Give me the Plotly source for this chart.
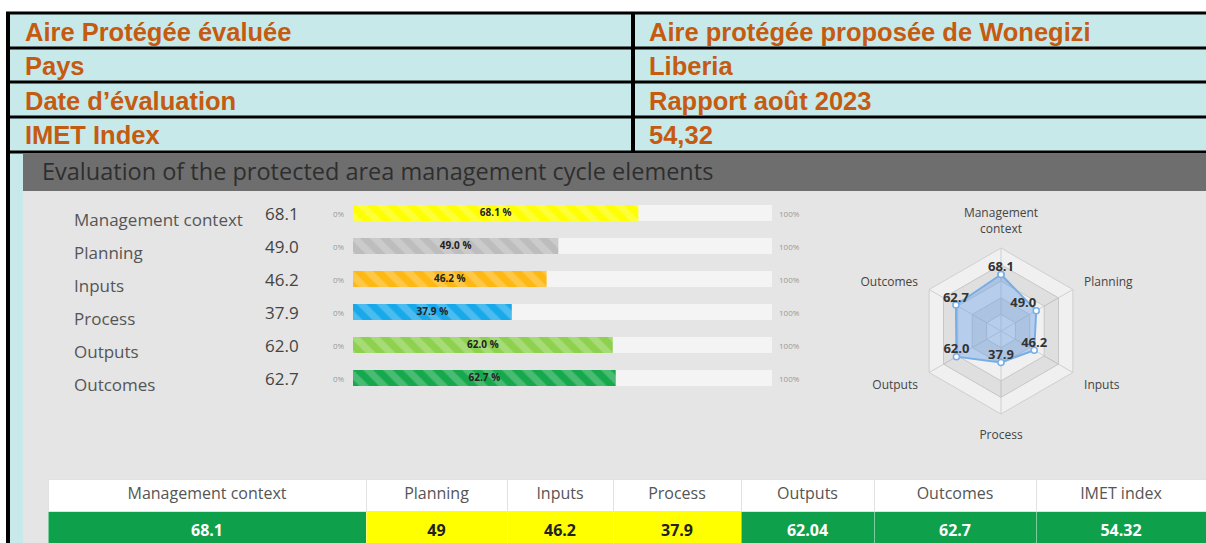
import plotly.graph_objects as go

WIN_W, WIN_H = 1206, 543
W, H = WIN_W, WIN_H

# ---------------- data ----------------
info_labels = ["Aire Protégée évaluée", "Pays", "Date d’évaluation", "IMET Index"]
info_values = ["Aire protégée proposée de Wonegizi", "Liberia", "Rapport août 2023", "54,32"]

title = "Evaluation of the protected area management cycle elements"
categories = ["Management context", "Planning", "Inputs", "Process", "Outputs", "Outcomes"]
scores = [68.1, 49.0, 46.2, 37.9, 62.0, 62.7]
max_score = 100
bar_colors = ["#FFFF00", "#BDBDBD", "#FDB813", "#18A9EA", "#8DD14F", "#16A84C"]
radar_labels = ["Management<br>context", "Planning", "Inputs", "Process", "Outputs", "Outcomes"]
radar_text_pos = ["top center", "top left", "top center", "top center", "top center", "top center"]
radar_rings = [20, 40, 60, 80, 100]

table_headers = ["Management context", "Planning", "Inputs", "Process", "Outputs", "Outcomes", "IMET index"]
table_values = [68.1, 49, 46.2, 37.9, 62.04, 62.7, 54.32]
good_threshold = 50


# ---------------- helpers (window pixels -> paper) ----------------
def px(x):
    return x / W


def py(y):
    return 1 - y / H


FONT = "Open Sans"
ORANGE = "#C55A11"
CYAN = "#C7E9EA"
GREEN = "#0FA04B"
YELLOW = "#FFFF00"

fig = go.Figure()

# ---------------- progress bars ----------------
fig.add_trace(go.Bar(
    x=[max_score] * len(categories), y=categories, orientation="h",
    marker=dict(color="#F4F4F4", line=dict(width=0)),
    width=0.49, hoverinfo="skip", xaxis="x", yaxis="y", showlegend=False,
))
fig.add_trace(go.Bar(
    x=scores, y=categories, orientation="h",
    marker=dict(color=bar_colors, line=dict(width=0)),
    width=0.49, xaxis="x", yaxis="y", showlegend=False, hoverinfo="skip",
))
fig.add_trace(go.Bar(
    x=scores, y=categories, orientation="h",
    marker=dict(color="rgba(0,0,0,0)", line=dict(width=0),
                pattern=dict(shape="\\", fillmode="replace", fgcolor="white",
                             fgopacity=0.22, size=14, solidity=0.5)),
    width=0.49, xaxis="x", yaxis="y", showlegend=False, hoverinfo="skip",
))
fig.add_trace(go.Scatter(
    x=[v / 2 for v in scores], y=categories, mode="text",
    text=[f"<b>{v:.1f} %</b>" for v in scores],
    textfont=dict(family=FONT, size=10, color="#222"),
    xaxis="x", yaxis="y", showlegend=False, hoverinfo="skip",
))

# ---------------- radar ----------------
theta_closed = radar_labels + [radar_labels[0]]
theta_rev = list(reversed(theta_closed))
for outer, inner in [(radar_rings[3], radar_rings[2]), (radar_rings[1], radar_rings[0])]:
    fig.add_trace(go.Scatterpolar(
        r=[outer] * len(theta_closed) + [inner] * len(theta_closed),
        theta=theta_closed + theta_rev,
        mode="lines", fill="toself", fillcolor="rgba(0,0,0,0.07)",
        line=dict(width=0), hoverinfo="skip", showlegend=False,
    ))
fig.add_trace(go.Scatterpolar(
    r=scores + [scores[0]], theta=theta_closed,
    mode="lines+markers", fill="toself", fillcolor="rgba(110,165,230,0.45)",
    line=dict(color="#78AEE6", width=2),
    marker=dict(color="white", size=6, line=dict(color="#78AEE6", width=1.5)),
    hoverinfo="skip", showlegend=False,
))
fig.add_trace(go.Scatterpolar(
    r=scores, theta=radar_labels, mode="text",
    text=[f"<b>{v:.1f}</b>" for v in scores], textposition=radar_text_pos,
    textfont=dict(family=FONT, size=13, color="#333"),
    hoverinfo="skip", showlegend=False,
))

# ---------------- bottom summary table ----------------
cell_fill = [GREEN if v >= good_threshold else YELLOW for v in table_values]
cell_font = ["white" if v >= good_threshold else "#222" for v in table_values]
fig.add_trace(go.Table(
    domain=dict(x=[px(48), 1], y=[0, py(479)]),
    columnwidth=[318, 141, 106, 128, 133, 162, 170],
    header=dict(
        values=table_headers, fill_color="white",
        line=dict(color="#E2E2E2", width=1),
        font=dict(family=FONT, size=16, color="#555"),
        align="center", height=32,
    ),
    cells=dict(
        values=[[f"<b>{v:g}</b>"] for v in table_values],
        fill_color=cell_fill, line=dict(color="rgba(255,255,255,0.45)", width=1),
        font=dict(family=FONT, size=16, color=cell_font),
        align="center", height=32,
    ),
))

# ---------------- annotations ----------------
annotations = [dict(
    x=px(40), y=py(171), xref="paper", yref="paper", xanchor="left", yanchor="middle",
    text=title, showarrow=False, font=dict(family=FONT, size=23.5, color="#2E2E2E"),
)]

# header info table (two columns, four rows)
row_edges = [13, 48, 82, 117, 152]
col_text_x = [23, 647]
for i, (lab, val) in enumerate(zip(info_labels, info_values)):
    yc = (row_edges[i] + row_edges[i + 1]) / 2 + 1
    for xt, txt in zip(col_text_x, [lab, val]):
        annotations.append(dict(
            x=px(xt), y=py(yc), xref="paper", yref="paper", xanchor="left", yanchor="middle",
            text=f"<b>{txt}</b>", showarrow=False,
            font=dict(family="Liberation Sans", size=25.5, color=ORANGE)))

for cat, v in zip(categories, scores):
    annotations.append(dict(x=px(72), y=cat, xref="paper", yref="y", xanchor="left",
                            yanchor="middle", yshift=-6, text=cat, showarrow=False,
                            font=dict(family=FONT, size=17, color="#555")))
    annotations.append(dict(x=px(301), y=cat, xref="paper", yref="y", xanchor="right",
                            yanchor="middle", text=f"{v:.1f}", showarrow=False,
                            font=dict(family=FONT, size=17, color="#444")))
    annotations.append(dict(x=px(347), y=cat, xref="paper", yref="y", xanchor="right",
                            yanchor="middle", text="0%", showarrow=False,
                            font=dict(family=FONT, size=8, color="#999")))
    annotations.append(dict(x=px(777), y=cat, xref="paper", yref="y", xanchor="left",
                            yanchor="middle", text=f"{max_score}%", showarrow=False,
                            font=dict(family=FONT, size=8, color="#999")))


# ---------------- shapes ----------------
def rect(x0, x1, y0, y1, color, layer="below"):
    return dict(type="rect", xref="paper", yref="paper", x0=px(x0), x1=px(x1),
                y0=py(y1), y1=py(y0), fillcolor=color, line=dict(width=0), layer=layer)


shapes = [
    rect(8, WIN_W, 13, 152, CYAN),                 # info table background
    rect(23, WIN_W, 153, WIN_H, "#E5E5E5"),        # dashboard body
    rect(23, WIN_W, 154, 191, "#6E6E6E"),          # dashboard title bar
    rect(10, 23, 153, WIN_H, CYAN),                # cell strip left of the dashboard
    rect(6, 10, 13, WIN_H, "black"),               # outer left border
    rect(631, 635, 13, 152, "black"),              # column divider
]
for ye in row_edges:
    shapes.append(rect(6, WIN_W, ye - 1.5, ye + 1.5, "black"))

fig.update_layout(
    width=W, height=H, margin=dict(l=0, r=0, t=0, b=0),
    paper_bgcolor="white", plot_bgcolor="rgba(0,0,0,0)",
    barmode="overlay", showlegend=False,
    xaxis=dict(domain=[px(353), px(772)], range=[0, max_score], visible=False, fixedrange=True),
    yaxis=dict(domain=[py(394.5), py(196.5)], type="category", categoryorder="array",
               categoryarray=categories, range=[len(categories) - 0.5, -0.5],
               visible=False, fixedrange=True),
    polar=dict(
        domain=dict(x=[px(918), px(1084)], y=[py(414), py(248)]),
        bgcolor="#F0F0F0", gridshape="linear",
        angularaxis=dict(direction="clockwise", rotation=90, gridcolor="#CFCFCF",
                         linecolor="#CFCFCF", ticks="outside", ticklen=10,
                         tickcolor="rgba(0,0,0,0)",
                         tickfont=dict(family=FONT, size=12, color="#444")),
        radialaxis=dict(range=[0, max_score], tickvals=radar_rings, showticklabels=False,
                        ticks="", gridcolor="#CFCFCF", showline=False),
    ),
    annotations=annotations, shapes=shapes,
)

# remove the browser's default 8px page margin so the figure fills the window
fig.write_html("out.html",
               config={"displayModeBar": False, "staticPlot": True},
               post_script="document.body.style.margin='0';document.body.style.overflow='hidden';")
